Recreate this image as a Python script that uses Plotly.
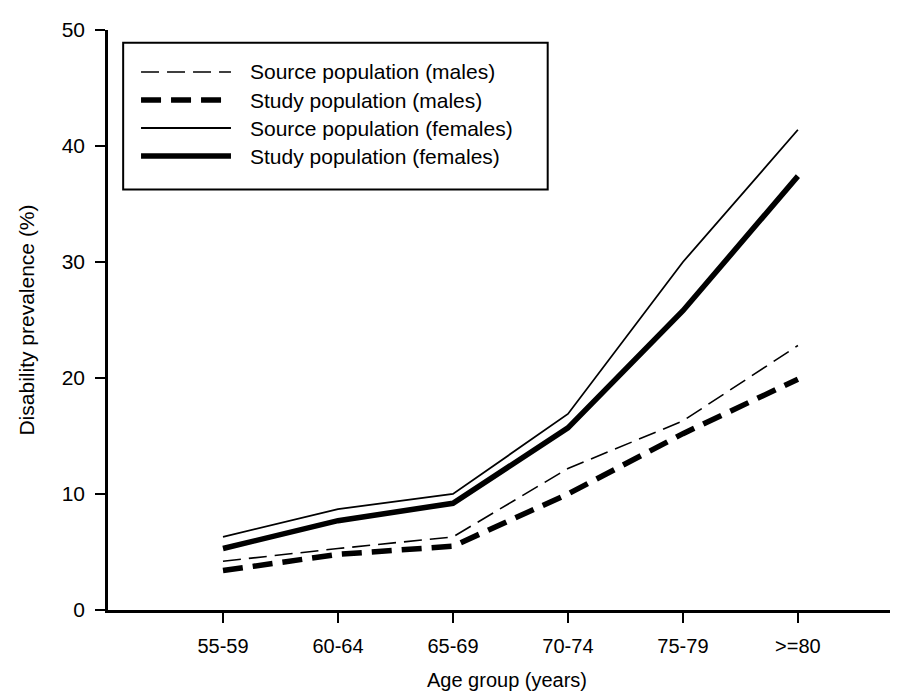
import plotly.graph_objects as go

age_groups = ["55-59", "60-64", "65-69", "70-74", "75-79", ">=80"]
source_males = [4.2, 5.3, 6.3, 12.2, 16.3, 22.8]
study_males = [3.4, 4.8, 5.5, 10.0, 15.2, 19.9]
source_females = [6.3, 8.7, 10.0, 16.9, 30.0, 41.4]
study_females = [5.3, 7.7, 9.2, 15.7, 25.8, 37.4]

y_ticks = [0, 10, 20, 30, 40, 50]

series = [
    ("Source population (males)", source_males, 1.6, "18px,8px"),
    ("Study population (males)", study_males, 5.5, "20px,10px"),
    ("Source population (females)", source_females, 1.8, "solid"),
    ("Study population (females)", study_females, 5.5, "solid"),
]

FONT = "Arial, Liberation Sans, sans-serif"
FS = 21
xpos = list(range(1, len(age_groups) + 1))

fig = go.Figure()
for name, vals, w, dash in series:
    fig.add_trace(go.Scatter(
        x=xpos, y=vals, mode="lines", name=name,
        line=dict(color="black", width=w, dash=dash),
        showlegend=False,
    ))

# legend box (decoration) in paper coordinates
lx0, lx1 = 0.019, 0.551
ly_top, ly_bot = 0.978, 0.725
fig.add_shape(type="rect", xref="paper", yref="paper",
              x0=lx0, x1=lx1, y0=ly_bot, y1=ly_top,
              line=dict(color="black", width=2), fillcolor="white", layer="above")
row_step = 0.0483
first_row = 0.9276
for i, (name, vals, w, dash) in enumerate(series):
    yy = first_row - row_step * i
    fig.add_shape(type="line", xref="paper", yref="paper",
                  x0=0.0414, x1=0.1541, y0=yy, y1=yy,
                  line=dict(color="black", width=w, dash=dash), layer="above")
    fig.add_annotation(xref="paper", yref="paper", x=0.1792, y=yy,
                       text=name, showarrow=False, xanchor="left", yanchor="middle",
                       xshift=-3,
                       font=dict(family=FONT, size=FS, color="black"))

fig.update_layout(
    width=898, height=693,
    margin=dict(l=100, r=0, t=22, b=91),
    plot_bgcolor="white", paper_bgcolor="white",
    font=dict(family=FONT, size=FS, color="black"),
    showlegend=False,
)
fig.update_xaxes(
    range=[0, 6.94], tickvals=xpos, ticktext=age_groups,
    showgrid=False, zeroline=False, showline=True, linecolor="black", linewidth=2.5,
    ticks="outside", ticklen=10, tickwidth=2, tickcolor="black",
    ticklabelstandoff=6,
    title=dict(text="Age group (years)", standoff=18, font=dict(size=FS - 1)),
    tickfont=dict(size=FS - 1),
)
fig.update_yaxes(
    range=[0, 50], tickvals=y_ticks,
    showgrid=False, zeroline=False, showline=True, linecolor="black", linewidth=2.5,
    ticks="outside", ticklen=10, tickwidth=2, tickcolor="black",
    ticklabelstandoff=6,
    title=dict(text="Disability prevalence (%)", standoff=22, font=dict(size=FS)),
    tickfont=dict(size=FS),
)

fig.write_html("out.html")
